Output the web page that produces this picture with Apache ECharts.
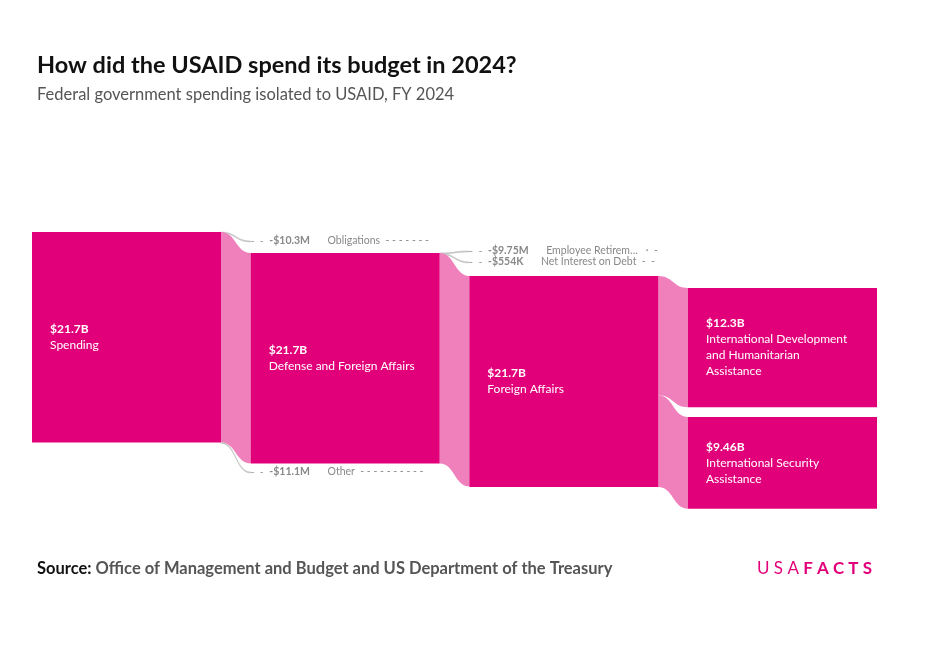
<!DOCTYPE html>
<html><head><meta charset="utf-8">
<script src="https://cdn.jsdelivr.net/npm/echarts@6/dist/echarts.min.js"></script>
<style>html,body{margin:0;padding:0;background:#fff}#c{width:929px;height:661px}</style>
</head><body><div id="c"></div>
<script>
// node names, values in billions of USD
const nodeNames = ["Spending","Obligations","Defense and Foreign Affairs","Other","Employee Retirement","Net Interest on Debt","Foreign Affairs","International Development and Humanitarian Assistance","International Security Assistance"];
const nodeLabels = ["$21.7B","-$10.3M","$21.7B","-$11.1M","-$9.75M","-$554K","$21.7B","$12.3B","$9.46B"];
const shownNames = {"Employee Retirement":"Employee Retirem…"};
const linkSources = ["Spending","Spending","Spending","Defense and Foreign Affairs","Defense and Foreign Affairs","Defense and Foreign Affairs","Foreign Affairs","Foreign Affairs"];
const linkTargets = ["Obligations","Defense and Foreign Affairs","Other","Employee Retirement","Net Interest on Debt","Foreign Affairs","International Development and Humanitarian Assistance","International Security Assistance"];
const linkValues = [0.0103,21.7,0.0111,0.00975,0.000554,21.7,12.3,9.46];
const smallNodes = ["Obligations","Other","Employee Retirement","Net Interest on Debt"];

const layoutTop=232, layoutH=277;
const nodeY = {"Spending":232,"Obligations":241,"Defense and Foreign Affairs":253,"Other":472,"Employee Retirement":251,"Foreign Affairs":276,"Net Interest on Debt":262,"International Development and Humanitarian Assistance":288,"International Security Assistance":417};

function wrap(s,max){const w=s.split(' ');const out=[];let cur='';w.forEach(x=>{if(cur&&(cur+' '+x).length>max){out.push(cur);cur=x;}else cur=cur?cur+' '+x:x;});if(cur)out.push(cur);return out.join('\n');}

const PINK='#e2007a', LIGHT='#f080bb';
const nodes = nodeNames.map((n,i)=>{
  const small = smallNodes.includes(n);
  const o = {name:n, localY:(nodeY[n]-layoutTop)/layoutH};
  if(small){
    const nm = shownNames[n]||n;
    const dashes = (n==='Obligations') ? '  - - - - - - -' : (n==='Other' ? '  - - - - - - - - - -' : (n==='Employee Retirement'?'   ·  -':'  -  -'));
    o.itemStyle={color:'rgba(0,0,0,0)',borderWidth:0};
    o.label={position:'insideLeft',distance:0,
      formatter:'{d|-  -  }{v|'+nodeLabels[i]+'}{d|      }{n|'+nm+dashes+'}',
      rich:{d:{color:'#999',fontSize:10.5},v:{color:'#888',fontSize:10.5,fontWeight:'bold',fontFamily:'Lato'},n:{color:'#888',fontSize:10.5,fontFamily:'Lato'}}};
  } else {
    const wide = n.startsWith('International');
    const nm = wide ? wrap(n,26) : n;
    o.label={position:'insideLeft',distance:18,
      formatter:'{v|'+nodeLabels[i]+'}\n'+nm.split('\n').map(l=>'{n|'+l+'}').join('\n'),
      rich:{v:{color:'#fff',fontSize:12,fontWeight:'bold',fontFamily:'Lato',lineHeight:16},
            n:{color:'#fff',fontSize:12,fontFamily:'Lato',lineHeight:16}}};
  }
  return o;
});
const links = linkSources.map((s,i)=>{
  const small = smallNodes.includes(linkTargets[i]);
  return {source:s,target:linkTargets[i],value:linkValues[i],
    lineStyle: small?{color:'#bbb',opacity:1,borderColor:'#c8c8c8',borderWidth:0.7}:{color:LIGHT,opacity:1}};
});

const chart = echarts.init(document.getElementById('c'));
chart.setOption({
  backgroundColor:'#fff',
  animation:false,
  title:[
    {text:'How did the USAID spend its budget in 2024?',left:32,top:48,textStyle:{fontFamily:'Lato',fontWeight:'bold',fontSize:23.5,color:'#111'}},
    {text:'Federal government spending isolated to USAID, FY 2024',left:32,top:81,textStyle:{fontFamily:'Lato',fontWeight:'normal',fontSize:16.5,color:'#555'}},
    {text:'{a|Source: }{b|Office of Management and Budget and US Department of the Treasury}',left:32,top:555,
     textStyle:{rich:{a:{fontFamily:'Lato',fontWeight:'bold',fontSize:16.5,color:'#111'},b:{fontFamily:'Lato',fontWeight:'bold',fontSize:16.5,color:'#555'}}}},
    {text:'{a|U S A }{b|F A C T S}',right:52,top:555,textStyle:{rich:{a:{fontFamily:'Lato',fontSize:17,color:PINK,fontWeight:'normal'},b:{fontFamily:'Lato',fontSize:17,color:PINK,fontWeight:'bold'}}}}
  ],
  series:[{
    type:'sankey',left:32,right:52,top:layoutTop,bottom:661-layoutTop-layoutH,
    nodeWidth:189,nodeGap:33,layoutIterations:0,draggable:false,
    nodeAlign:'left',
    itemStyle:{color:PINK,borderWidth:0},
    lineStyle:{curveness:0.5},
    emphasis:{disabled:true},
    data:nodes,links:links
  }]
});
</script></body></html>
